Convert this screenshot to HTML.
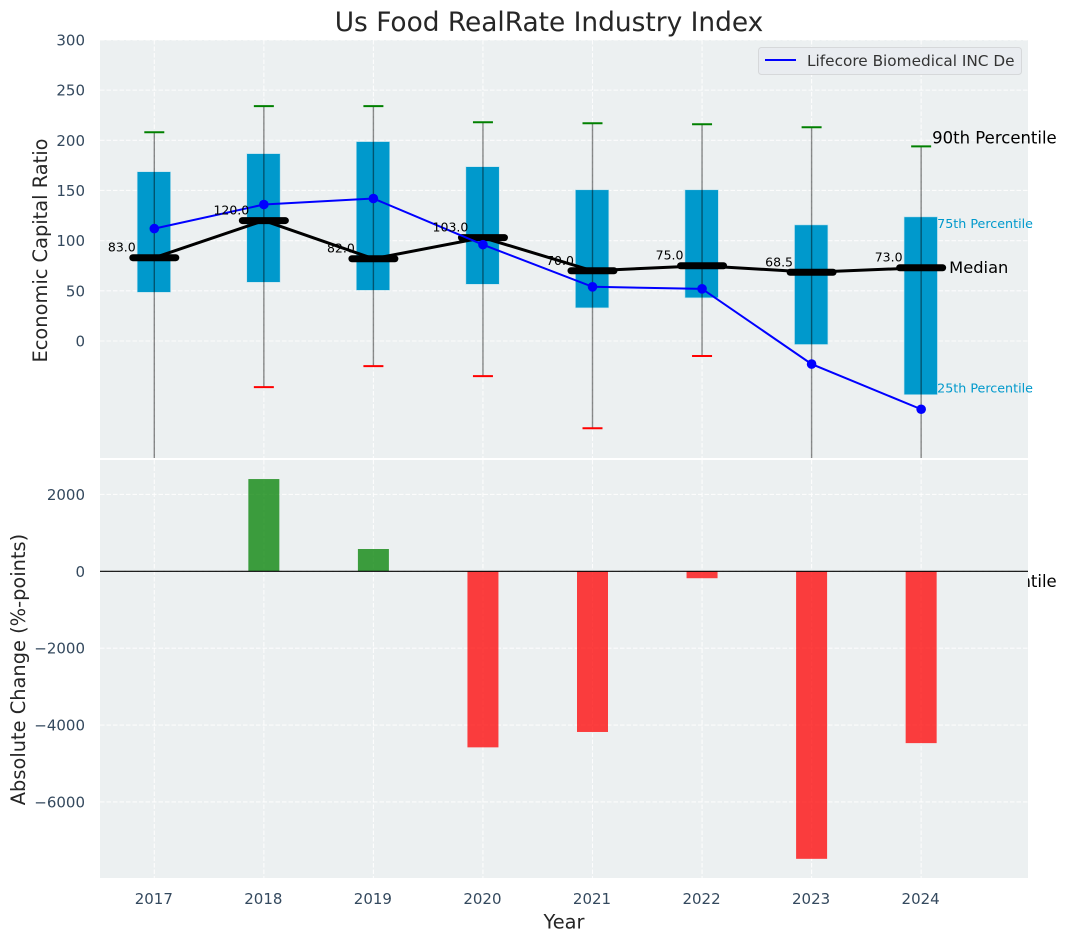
<!DOCTYPE html>
<html>
<head>
<meta charset="utf-8">
<title>Us Food RealRate Industry Index</title>
<style>
html,body{margin:0;padding:0;background:#fff;}
svg{display:block;font-family:"DejaVu Sans","Liberation Sans",sans-serif;}
</style>
</head>
<body>
<svg id="chart" width="1067" height="942" viewBox="0 0 1067 942" xmlns="http://www.w3.org/2000/svg">
  <defs>
    <clipPath id="top-clip"><rect x="100" y="40" width="928" height="418"/></clipPath>
    <clipPath id="bottom-clip"><rect x="100" y="460" width="928" height="418"/></clipPath>
  </defs>
  <rect width="1067" height="942" fill="#ffffff"/>
  <text x="549" y="31" text-anchor="middle" font-size="26.4px" fill="#262626">Us Food RealRate Industry Index</text>
  <rect x="100" y="40" width="928" height="418" fill="#ecf0f1"/>
  <g id="top-grid"></g>
  <g id="top-marks" clip-path="url(#top-clip)"></g>
  <g id="annotations"></g>
  <rect x="100" y="460" width="928" height="418" fill="#ecf0f1"/>
  <g id="bottom-grid"></g>
  <g id="bottom-marks" clip-path="url(#bottom-clip)"></g>
  <g id="tick-labels"></g>
  <text transform="translate(47,250.5) rotate(-90)" text-anchor="middle" font-size="19.4px" fill="#262626">Economic Capital Ratio</text>
  <text transform="translate(25,669.5) rotate(-90)" text-anchor="middle" font-size="19.4px" fill="#262626">Absolute Change (%-points)</text>
  <text x="564" y="928.5" text-anchor="middle" font-size="19.4px" fill="#262626">Year</text>
  <g>
    <rect x="758.5" y="47.5" width="263" height="27" rx="3" fill="#e9ecf0" stroke="#d6d8da" stroke-width="1"/>
    <line x1="765" y1="60" x2="796" y2="60" stroke="#0000ff" stroke-width="2"/>
    <text x="807" y="66" font-size="15.3px" fill="#333333">Lifecore Biomedical INC De</text>
  </g>
</svg>
<script>
const years = [2017, 2018, 2019, 2020, 2021, 2022, 2023, 2024];
const whiskerHigh = [208, 234, 234, 218, 217, 216, 213, 194];
const whiskerLow = [-200, -46, -25, -35, -87, -15, -190, -230];
const boxHigh = [168.7, 186.7, 198.7, 173.7, 150.7, 150.7, 115.7, 123.7];
const boxLow = [48.5, 58.5, 50.5, 56.5, 33, 43, -3.5, -53.5];
const medians = [83, 120, 82, 103, 70, 75, 68.5, 73];
const companyValues = [112, 136, 142, 96, 54, 52, -23, -68];
const changeValues = [0, 2400, 580, -4580, -4180, -180, -7480, -4470];
const topTicks = [0, 50, 100, 150, 200, 250, 300];
const bottomTicks = [-6000, -4000, -2000, 0, 2000];

const NS = 'http://www.w3.org/2000/svg';
const xScale = function (year) { return 154.3 + (year - 2017) * 109.55; };
const yTop = function (v) { return 341 - v * 1.0035; };
const yBottom = function (v) { return 571.3 - v * 0.03844; };

function make(tag, parent, attrs, content) {
  const el = document.createElementNS(NS, tag);
  for (const key in attrs) el.setAttribute(key, attrs[key]);
  if (content !== undefined) el.textContent = content;
  parent.appendChild(el);
  return el;
}

const topGrid = document.getElementById('top-grid');
const topMarks = document.getElementById('top-marks');
const annotations = document.getElementById('annotations');
const bottomGrid = document.getElementById('bottom-grid');
const bottomMarks = document.getElementById('bottom-marks');
const tickLabels = document.getElementById('tick-labels');
const gridStyle = { stroke: '#ffffff', 'stroke-width': 1.1, 'stroke-dasharray': '4.5 2', opacity: 0.85 };
const tickColor = '#34495e';

topTicks.forEach(function (t) {
  const line = make('line', topGrid, Object.assign({ x1: 100, x2: 1028, y1: yTop(t), y2: yTop(t) }, gridStyle));
  
  
  const label = make('text', tickLabels, { x: 85, y: yTop(t) + 5.5, 'text-anchor': 'end', 'font-size': '15px', fill: tickColor }, String(t));
  
  
});

bottomTicks.forEach(function (t) {
  const line = make('line', bottomGrid, Object.assign({ x1: 100, x2: 1028, y1: yBottom(t), y2: yBottom(t) }, gridStyle));
  
  
  const text = t < 0 ? '\u2212' + Math.abs(t) : String(t);
  const label = make('text', tickLabels, { x: 85, y: yBottom(t) + 5.5, 'text-anchor': 'end', 'font-size': '15px', fill: tickColor }, text);
  
  
});

years.forEach(function (year) {
  const x = xScale(year);
  const a = make('line', topGrid, Object.assign({ x1: x, x2: x, y1: 40, y2: 458 }, gridStyle));
  
  
  const b = make('line', bottomGrid, Object.assign({ x1: x, x2: x, y1: 460, y2: 878 }, gridStyle));
  
  
  const label = make('text', tickLabels, { x: x - 0.5, y: 904, 'text-anchor': 'middle', 'font-size': '15px', fill: tickColor }, String(year));
  
  
});

years.forEach(function (year, i) {
  const x = xScale(year);
  const box = make('rect', topMarks, { x: x - 17.1, y: yTop(boxHigh[i]), width: 33.4, height: yTop(boxLow[i]) - yTop(boxHigh[i]), fill: '#0099cc', stroke: '#bfe3ee', 'stroke-width': 0.6 });
  
  
  const whisker = make('line', topMarks, { x1: x, x2: x, y1: yTop(whiskerHigh[i]), y2: yTop(whiskerLow[i]), stroke: '#000000', 'stroke-opacity': 0.45, 'stroke-width': 1.4 });
  
  
  const capHigh = make('line', topMarks, { x1: x - 10, x2: x + 10, y1: yTop(whiskerHigh[i]), y2: yTop(whiskerHigh[i]), stroke: '#008000', 'stroke-width': 2 });
  
  
  const capLow = make('line', topMarks, { x1: x - 10, x2: x + 10, y1: yTop(whiskerLow[i]), y2: yTop(whiskerLow[i]), stroke: '#ff0000', 'stroke-width': 2 });
  
  
});

const medianPoints = years.map(function (year, i) { return xScale(year) + ',' + yTop(medians[i]); }).join(' ');
const medianLine = make('polyline', topMarks, { points: medianPoints, fill: 'none', stroke: '#000000', 'stroke-width': 3 });



years.forEach(function (year, i) {
  const x = xScale(year);
  const bar = make('line', topMarks, { x1: x - 21.5, x2: x + 21.5, y1: yTop(medians[i]), y2: yTop(medians[i]), stroke: '#000000', 'stroke-width': 7, 'stroke-linecap': 'round' });
  
  
});

const companyPoints = years.map(function (year, i) { return xScale(year) + ',' + yTop(companyValues[i]); }).join(' ');
const companyLine = make('polyline', topMarks, { points: companyPoints, fill: 'none', stroke: '#0000ff', 'stroke-width': 2 });



years.forEach(function (year, i) {
  const dot = make('circle', topMarks, { cx: xScale(year), cy: yTop(companyValues[i]), r: 4.8, fill: '#0000ff' });
  
  
  const label = make('text', annotations, { x: xScale(year) - 32.5, y: yTop(medians[i]) - 6, 'text-anchor': 'middle', 'font-size': '12.5px', fill: '#000000' }, medians[i].toFixed(1));
  
  
});

const last = years.length - 1;
const lastX = xScale(years[last]);
const high90 = make('text', annotations, { x: lastX + 11, y: yTop(whiskerHigh[last]) - 3, 'font-size': '16.5px', fill: '#000000' }, '90th Percentile');


const low10 = make('text', annotations, { x: lastX + 11, y: yTop(whiskerLow[last]) + 15, 'font-size': '16.5px', fill: '#000000' }, '10th Percentile');


const high75 = make('text', annotations, { x: lastX + 16, y: yTop(boxHigh[last]) + 11, 'font-size': '12.7px', fill: '#0099cc' }, '75th Percentile');


const low25 = make('text', annotations, { x: lastX + 16, y: yTop(boxLow[last]) - 2, 'font-size': '12.7px', fill: '#0099cc' }, '25th Percentile');


const medianNote = make('text', annotations, { x: lastX + 28, y: yTop(medians[last]) + 5.5, 'font-size': '16.3px', fill: '#000000' }, 'Median');



years.forEach(function (year, i) {
  const v = changeValues[i];
  if (v === 0) return;
  const top = Math.min(yBottom(v), yBottom(0));
  const bar = make('rect', bottomMarks, { x: xScale(year) - 15.5, y: top, width: 31, height: Math.abs(yBottom(v) - yBottom(0)), fill: v > 0 ? '#008000' : '#ff0000', 'fill-opacity': 0.75 });
  
  
});

const zeroLine = make('line', bottomMarks, { x1: 100, x2: 1028, y1: yBottom(0), y2: yBottom(0), stroke: '#000000', 'stroke-width': 1.2 });


</script>
</body>
</html>
